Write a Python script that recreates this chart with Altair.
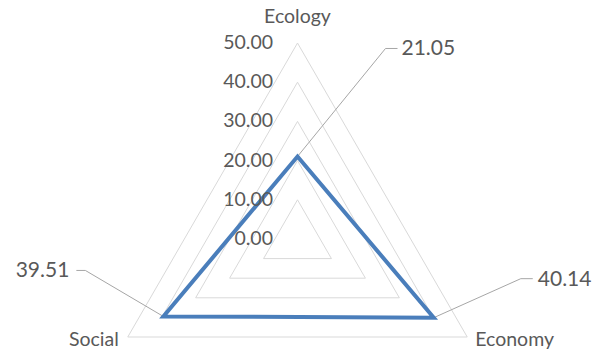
import math
import altair as alt
import pandas as pd

# ---- data ----
categories = ["Ecology", "Economy", "Social"]
values = [21.05, 40.14, 39.51]
tick_values = [0, 10, 20, 30, 40, 50]
tick_labels = ["0.00", "10.00", "20.00", "30.00", "40.00", "50.00"]
value_labels = ["21.05", "40.14", "39.51"]

# ---- layout (pixels) ----
W, H = 596, 350
CX, CY = 297.5, 239.0     # centre of the radar in pixels
UNIT = 3.92               # pixels per value unit
FONT = "Lato"
TEXT = "#595959"
GRID = "#d9d9d9"
LEADER = "#a6a6a6"
BLUE = "#4a7ebb"

angles = [0, 120, 240]


def pol(r, a):
    rad = math.radians(a)
    return r * math.sin(rad), r * math.cos(rad)


# grid triangles
grid_rows = []
for lv in tick_values[1:]:
    for i, a in enumerate(angles + [angles[0]]):
        x, y = pol(lv, a)
        grid_rows.append({"level": lv, "order": i, "x": x, "y": y})
grid_df = pd.DataFrame(grid_rows)

# series line (repeat first two points so every corner is joined)
ser_rows = []
seq = [0, 1, 2, 0, 1]
for i, k in enumerate(seq):
    x, y = pol(values[k], angles[k])
    ser_rows.append({"order": i, "x": x, "y": y})
ser_df = pd.DataFrame(ser_rows)

# tick labels (right aligned left of the vertical axis)
tick_df = pd.DataFrame({
    "label": tick_labels,
    "x": [-24.5 / UNIT] * len(tick_values),
    "y": tick_values,
})

# leader lines and value labels: pixel offsets from each data point
elbow_px = [(88, -108), (87, -39), (-78, -46)]
end_px = [(100, -108), (99, -39), (-87, -46)]
lab_px = [(104, -107), (104, -38), (-94, -45)]

seg_rows, lab_rows = [], []
for k in range(3):
    px, py = pol(values[k], angles[k])
    ex, ey = px + elbow_px[k][0] / UNIT, py - elbow_px[k][1] / UNIT
    fx, fy = px + end_px[k][0] / UNIT, py - end_px[k][1] / UNIT
    seg_rows.append({"x": px, "y": py, "x2": ex, "y2": ey})
    seg_rows.append({"x": ex, "y": ey, "x2": fx, "y2": fy})
    lab_rows.append({"label": value_labels[k],
                     "x": px + lab_px[k][0] / UNIT,
                     "y": py - lab_px[k][1] / UNIT,
                     "side": "right" if lab_px[k][0] < 0 else "left"})
seg_df = pd.DataFrame(seg_rows)
lab_df = pd.DataFrame(lab_rows)

# category labels: pixel offsets from outer vertices
cat_px = [(0, -26), (8, 3), (-9, 3)]
cat_rows = []
for k, c in enumerate(categories):
    vx, vy = pol(tick_values[-1], angles[k])
    cat_rows.append({"label": c,
                     "x": vx + cat_px[k][0] / UNIT,
                     "y": vy - cat_px[k][1] / UNIT})
cat_df = pd.DataFrame(cat_rows)

xs = alt.Scale(domain=[-CX / UNIT, (W - CX) / UNIT], nice=False, zero=False)
ys = alt.Scale(domain=[-(H - CY) / UNIT, CY / UNIT], nice=False, zero=False)
X = lambda f="x": alt.X(f"{f}:Q", scale=xs, axis=None)
Y = lambda f="y": alt.Y(f"{f}:Q", scale=ys, axis=None)

grid = alt.Chart(grid_df).mark_line(color=GRID, strokeWidth=1).encode(
    x=X(), y=Y(), detail="level:N", order="order:Q")

leaders = alt.Chart(seg_df).mark_rule(color=LEADER, strokeWidth=1).encode(
    x=X(), y=Y(), x2="x2:Q", y2="y2:Q")

series = alt.Chart(ser_df).mark_line(color=BLUE, strokeWidth=4,
                                     strokeJoin="miter").encode(
    x=X(), y=Y(), order="order:Q")

ticks = alt.Chart(tick_df).mark_text(align="right", baseline="middle",
                                     font=FONT, fontSize=19.5, color=TEXT).encode(
    x=X(), y=Y(), text="label:N")

lab_left = alt.Chart(lab_df[lab_df.side == "left"]).mark_text(
    align="left", baseline="middle", font=FONT, fontSize=21, color=TEXT).encode(
    x=X(), y=Y(), text="label:N")
lab_right = alt.Chart(lab_df[lab_df.side == "right"]).mark_text(
    align="right", baseline="middle", font=FONT, fontSize=21, color=TEXT).encode(
    x=X(), y=Y(), text="label:N")

cat_c = alt.Chart(cat_df.iloc[[0]]).mark_text(
    align="center", baseline="middle", font=FONT, fontSize=19.5, color=TEXT).encode(
    x=X(), y=Y(), text="label:N")
cat_l = alt.Chart(cat_df.iloc[[1]]).mark_text(
    align="left", baseline="middle", font=FONT, fontSize=19.5, color=TEXT).encode(
    x=X(), y=Y(), text="label:N")
cat_r = alt.Chart(cat_df.iloc[[2]]).mark_text(
    align="right", baseline="middle", font=FONT, fontSize=19.5, color=TEXT).encode(
    x=X(), y=Y(), text="label:N")

chart = alt.layer(grid, leaders, series, ticks, lab_left, lab_right,
                  cat_c, cat_l, cat_r).properties(
    width=W, height=H, padding=0, autosize=alt.AutoSizeParams(type="none"),
    background="white",
).configure_view(stroke=None)

chart.save("out.html", embed_options={"renderer": "svg", "actions": False})
